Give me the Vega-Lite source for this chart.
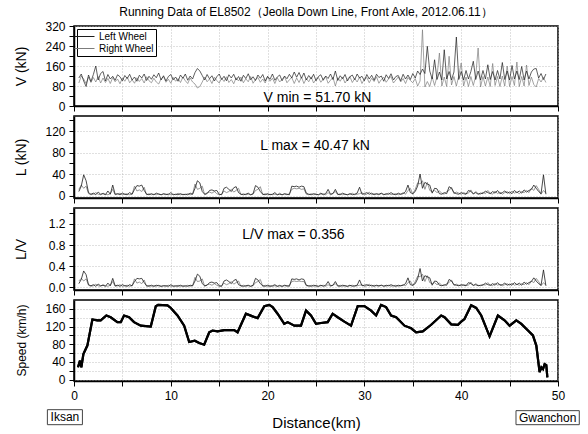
{
  "$schema": "https://vega.github.io/schema/vega-lite/v6.json",
  "background": "white",
  "padding": {"left": 13, "top": 6, "right": 4, "bottom": 4},
  "config": {
    "font": "Liberation Sans",
    "view": {"stroke": "black", "strokeWidth": 1.5},
    "axis": {"domainColor": "black", "domainWidth": 1.5, "tickColor": "black", "tickWidth": 1, "tickSize": 5, "labelColor": "black", "labelFontSize": 12, "labelFont": "Liberation Sans", "titleFont": "Liberation Sans", "titleFontWeight": "normal", "titleColor": "black", "gridColor": "#b0b0b0", "gridDash": [1, 2], "gridWidth": 0.8, "labelPadding": 4, "labelFlush": false, "labelOverlap": false},
    "legend": {"labelFont": "Liberation Sans"}
  },
  "title": {"text": "Running Data of EL8502（Jeolla Down Line, Front Axle, 2012.06.11）", "fontSize": 12, "fontWeight": "normal", "font": "Liberation Sans", "color": "black", "offset": 0, "anchor": "middle", "dx": 9},
  "spacing": 10,
  "bounds": "flush",
  "datasets": {
    "w": [
      {"d":0.5,"vl":112,"vr":92,"ll":8,"lr":12,"ql":0.07,"qr":0.12},
      {"d":0.75,"vl":128,"vr":120,"ll":18,"lr":20,"ql":0.15,"qr":0.17},
      {"d":1.0,"vl":100,"vr":108,"ll":39,"lr":14,"ql":0.31,"qr":0.12},
      {"d":1.25,"vl":78,"vr":90,"ll":28,"lr":18,"ql":0.24,"qr":0.16},
      {"d":1.5,"vl":124,"vr":116,"ll":6,"lr":4,"ql":0.05,"qr":0.04},
      {"d":1.75,"vl":98,"vr":94,"ll":3,"lr":2,"ql":0.03,"qr":0.02},
      {"d":2.0,"vl":126,"vr":114,"ll":5,"lr":3,"ql":0.05,"qr":0.03},
      {"d":2.25,"vl":160,"vr":96,"ll":2,"lr":6,"ql":0.02,"qr":0.06},
      {"d":2.5,"vl":104,"vr":118,"ll":7,"lr":3,"ql":0.06,"qr":0.03},
      {"d":2.75,"vl":130,"vr":92,"ll":3,"lr":2,"ql":0.03,"qr":0.02},
      {"d":3.0,"vl":138,"vr":112,"ll":4,"lr":5,"ql":0.04,"qr":0.05},
      {"d":3.25,"vl":100,"vr":94,"ll":2,"lr":3,"ql":0.02,"qr":0.03},
      {"d":3.5,"vl":126,"vr":110,"ll":9,"lr":2,"ql":0.08,"qr":0.02},
      {"d":3.75,"vl":108,"vr":90,"ll":3,"lr":4,"ql":0.03,"qr":0.04},
      {"d":4.0,"vl":119,"vr":114,"ll":20,"lr":12,"ql":0.17,"qr":0.11},
      {"d":4.25,"vl":103,"vr":97,"ll":3,"lr":2,"ql":0.03,"qr":0.02},
      {"d":4.5,"vl":125,"vr":108,"ll":4,"lr":3,"ql":0.04,"qr":0.03},
      {"d":4.75,"vl":117,"vr":89,"ll":2,"lr":5,"ql":0.02,"qr":0.05},
      {"d":5.0,"vl":101,"vr":112,"ll":5,"lr":2,"ql":0.05,"qr":0.02},
      {"d":5.25,"vl":122,"vr":99,"ll":3,"lr":3,"ql":0.03,"qr":0.03},
      {"d":5.5,"vl":110,"vr":116,"ll":2,"lr":4,"ql":0.02,"qr":0.04},
      {"d":5.75,"vl":127,"vr":93,"ll":6,"lr":2,"ql":0.05,"qr":0.02},
      {"d":6.0,"vl":104,"vr":105,"ll":3,"lr":3,"ql":0.03,"qr":0.03},
      {"d":6.25,"vl":116,"vr":91,"ll":12,"lr":18,"ql":0.11,"qr":0.16},
      {"d":6.5,"vl":99,"vr":113,"ll":19,"lr":9,"ql":0.17,"qr":0.08},
      {"d":6.75,"vl":123,"vr":98,"ll":18,"lr":11,"ql":0.16,"qr":0.10},
      {"d":7.0,"vl":112,"vr":110,"ll":20,"lr":8,"ql":0.17,"qr":0.07},
      {"d":7.25,"vl":128,"vr":92,"ll":10,"lr":16,"ql":0.09,"qr":0.14},
      {"d":7.5,"vl":102,"vr":117,"ll":3,"lr":2,"ql":0.03,"qr":0.02},
      {"d":7.75,"vl":119,"vr":101,"ll":2,"lr":4,"ql":0.02,"qr":0.04},
      {"d":8.0,"vl":107,"vr":93,"ll":4,"lr":2,"ql":0.04,"qr":0.02},
      {"d":8.25,"vl":125,"vr":111,"ll":2,"lr":3,"ql":0.02,"qr":0.03},
      {"d":8.5,"vl":113,"vr":96,"ll":5,"lr":2,"ql":0.04,"qr":0.02},
      {"d":8.75,"vl":132,"vr":88,"ll":3,"lr":4,"ql":0.03,"qr":0.04},
      {"d":9.0,"vl":104,"vr":109,"ll":2,"lr":2,"ql":0.02,"qr":0.02},
      {"d":9.25,"vl":121,"vr":118,"ll":4,"lr":3,"ql":0.03,"qr":0.03},
      {"d":9.5,"vl":100,"vr":95,"ll":3,"lr":2,"ql":0.03,"qr":0.02},
      {"d":9.75,"vl":118,"vr":107,"ll":2,"lr":4,"ql":0.02,"qr":0.04},
      {"d":10.0,"vl":126,"vr":91,"ll":6,"lr":2,"ql":0.05,"qr":0.02},
      {"d":10.25,"vl":105,"vr":114,"ll":2,"lr":3,"ql":0.02,"qr":0.03},
      {"d":10.5,"vl":116,"vr":99,"ll":3,"lr":2,"ql":0.03,"qr":0.02},
      {"d":10.75,"vl":99,"vr":110,"ll":2,"lr":5,"ql":0.02,"qr":0.04},
      {"d":11.0,"vl":124,"vr":94,"ll":4,"lr":2,"ql":0.04,"qr":0.02},
      {"d":11.25,"vl":111,"vr":116,"ll":2,"lr":3,"ql":0.02,"qr":0.03},
      {"d":11.5,"vl":128,"vr":101,"ll":3,"lr":2,"ql":0.03,"qr":0.02},
      {"d":11.75,"vl":103,"vr":90,"ll":2,"lr":4,"ql":0.02,"qr":0.04},
      {"d":12.0,"vl":120,"vr":112,"ll":5,"lr":2,"ql":0.04,"qr":0.02},
      {"d":12.25,"vl":108,"vr":96,"ll":3,"lr":3,"ql":0.03,"qr":0.03},
      {"d":12.5,"vl":134,"vr":88,"ll":14,"lr":22,"ql":0.12,"qr":0.19},
      {"d":12.75,"vl":150,"vr":72,"ll":28,"lr":12,"ql":0.25,"qr":0.11},
      {"d":13.0,"vl":140,"vr":78,"ll":24,"lr":14,"ql":0.21,"qr":0.12},
      {"d":13.25,"vl":122,"vr":96,"ll":8,"lr":18,"ql":0.07,"qr":0.16},
      {"d":13.5,"vl":104,"vr":116,"ll":3,"lr":2,"ql":0.03,"qr":0.02},
      {"d":13.75,"vl":126,"vr":97,"ll":4,"lr":6,"ql":0.04,"qr":0.05},
      {"d":14.0,"vl":109,"vr":108,"ll":10,"lr":7,"ql":0.09,"qr":0.06},
      {"d":14.25,"vl":121,"vr":90,"ll":11,"lr":5,"ql":0.10,"qr":0.04},
      {"d":14.5,"vl":100,"vr":115,"ll":9,"lr":8,"ql":0.08,"qr":0.07},
      {"d":14.75,"vl":117,"vr":102,"ll":10,"lr":4,"ql":0.09,"qr":0.04},
      {"d":15.0,"vl":128,"vr":92,"ll":3,"lr":2,"ql":0.03,"qr":0.02},
      {"d":15.25,"vl":106,"vr":111,"ll":2,"lr":3,"ql":0.02,"qr":0.03},
      {"d":15.5,"vl":119,"vr":98,"ll":14,"lr":9,"ql":0.12,"qr":0.08},
      {"d":15.75,"vl":101,"vr":117,"ll":16,"lr":6,"ql":0.14,"qr":0.05},
      {"d":16.0,"vl":125,"vr":94,"ll":12,"lr":8,"ql":0.11,"qr":0.07},
      {"d":16.25,"vl":112,"vr":106,"ll":8,"lr":12,"ql":0.07,"qr":0.11},
      {"d":16.5,"vl":127,"vr":89,"ll":15,"lr":7,"ql":0.13,"qr":0.06},
      {"d":16.75,"vl":104,"vr":113,"ll":17,"lr":10,"ql":0.15,"qr":0.09},
      {"d":17.0,"vl":118,"vr":100,"ll":6,"lr":14,"ql":0.05,"qr":0.12},
      {"d":17.25,"vl":99,"vr":116,"ll":3,"lr":2,"ql":0.03,"qr":0.02},
      {"d":17.5,"vl":123,"vr":93,"ll":2,"lr":4,"ql":0.02,"qr":0.04},
      {"d":17.75,"vl":110,"vr":109,"ll":3,"lr":2,"ql":0.03,"qr":0.02},
      {"d":18.0,"vl":129,"vr":97,"ll":5,"lr":3,"ql":0.04,"qr":0.03},
      {"d":18.25,"vl":105,"vr":118,"ll":2,"lr":2,"ql":0.02,"qr":0.02},
      {"d":18.5,"vl":117,"vr":91,"ll":4,"lr":3,"ql":0.04,"qr":0.03},
      {"d":18.75,"vl":102,"vr":106,"ll":19,"lr":10,"ql":0.17,"qr":0.09},
      {"d":19.0,"vl":124,"vr":114,"ll":16,"lr":12,"ql":0.14,"qr":0.11},
      {"d":19.25,"vl":111,"vr":95,"ll":8,"lr":17,"ql":0.07,"qr":0.15},
      {"d":19.5,"vl":126,"vr":108,"ll":3,"lr":2,"ql":0.03,"qr":0.02},
      {"d":19.75,"vl":100,"vr":92,"ll":2,"lr":4,"ql":0.02,"qr":0.04},
      {"d":20.0,"vl":119,"vr":117,"ll":4,"lr":2,"ql":0.04,"qr":0.02},
      {"d":20.25,"vl":107,"vr":99,"ll":2,"lr":3,"ql":0.02,"qr":0.03},
      {"d":20.5,"vl":128,"vr":111,"ll":3,"lr":2,"ql":0.03,"qr":0.02},
      {"d":20.75,"vl":103,"vr":90,"ll":6,"lr":3,"ql":0.05,"qr":0.03},
      {"d":21.0,"vl":116,"vr":113,"ll":2,"lr":2,"ql":0.02,"qr":0.02},
      {"d":21.25,"vl":124,"vr":96,"ll":3,"lr":5,"ql":0.03,"qr":0.04},
      {"d":21.5,"vl":101,"vr":107,"ll":2,"lr":2,"ql":0.02,"qr":0.02},
      {"d":21.75,"vl":120,"vr":118,"ll":4,"lr":3,"ql":0.04,"qr":0.03},
      {"d":22.0,"vl":109,"vr":93,"ll":3,"lr":2,"ql":0.03,"qr":0.02},
      {"d":22.25,"vl":127,"vr":105,"ll":2,"lr":4,"ql":0.02,"qr":0.04},
      {"d":22.5,"vl":112,"vr":114,"ll":18,"lr":12,"ql":0.16,"qr":0.11},
      {"d":22.75,"vl":136,"vr":90,"ll":17,"lr":14,"ql":0.15,"qr":0.12},
      {"d":23.0,"vl":115,"vr":112,"ll":18,"lr":13,"ql":0.16,"qr":0.11},
      {"d":23.25,"vl":134,"vr":94,"ll":16,"lr":14,"ql":0.14,"qr":0.12},
      {"d":23.5,"vl":111,"vr":116,"ll":18,"lr":12,"ql":0.16,"qr":0.11},
      {"d":23.75,"vl":132,"vr":90,"ll":17,"lr":13,"ql":0.15,"qr":0.11},
      {"d":24.0,"vl":104,"vr":110,"ll":5,"lr":3,"ql":0.04,"qr":0.03},
      {"d":24.25,"vl":122,"vr":97,"ll":3,"lr":2,"ql":0.03,"qr":0.02},
      {"d":24.5,"vl":108,"vr":117,"ll":2,"lr":4,"ql":0.02,"qr":0.04},
      {"d":24.75,"vl":127,"vr":92,"ll":4,"lr":2,"ql":0.04,"qr":0.02},
      {"d":25.0,"vl":101,"vr":106,"ll":3,"lr":3,"ql":0.03,"qr":0.03},
      {"d":25.25,"vl":118,"vr":114,"ll":2,"lr":2,"ql":0.02,"qr":0.02},
      {"d":25.5,"vl":125,"vr":95,"ll":5,"lr":3,"ql":0.04,"qr":0.03},
      {"d":25.75,"vl":103,"vr":108,"ll":2,"lr":4,"ql":0.02,"qr":0.04},
      {"d":26.0,"vl":120,"vr":118,"ll":4,"lr":2,"ql":0.04,"qr":0.02},
      {"d":26.25,"vl":110,"vr":91,"ll":12,"lr":6,"ql":0.11,"qr":0.05},
      {"d":26.5,"vl":128,"vr":103,"ll":3,"lr":2,"ql":0.03,"qr":0.02},
      {"d":26.75,"vl":106,"vr":115,"ll":4,"lr":5,"ql":0.04,"qr":0.04},
      {"d":27.0,"vl":140,"vr":80,"ll":12,"lr":8,"ql":0.11,"qr":0.07},
      {"d":27.25,"vl":102,"vr":113,"ll":3,"lr":2,"ql":0.03,"qr":0.02},
      {"d":27.5,"vl":121,"vr":99,"ll":2,"lr":4,"ql":0.02,"qr":0.04},
      {"d":27.75,"vl":109,"vr":116,"ll":5,"lr":2,"ql":0.04,"qr":0.02},
      {"d":28.0,"vl":126,"vr":92,"ll":3,"lr":3,"ql":0.03,"qr":0.03},
      {"d":28.25,"vl":100,"vr":107,"ll":2,"lr":2,"ql":0.02,"qr":0.02},
      {"d":28.5,"vl":117,"vr":118,"ll":4,"lr":3,"ql":0.04,"qr":0.03},
      {"d":28.75,"vl":124,"vr":94,"ll":2,"lr":5,"ql":0.02,"qr":0.04},
      {"d":29.0,"vl":105,"vr":110,"ll":3,"lr":2,"ql":0.03,"qr":0.02},
      {"d":29.25,"vl":128,"vr":96,"ll":5,"lr":3,"ql":0.04,"qr":0.03},
      {"d":29.5,"vl":112,"vr":116,"ll":16,"lr":4,"ql":0.14,"qr":0.04},
      {"d":29.75,"vl":119,"vr":90,"ll":3,"lr":6,"ql":0.03,"qr":0.05},
      {"d":30.0,"vl":101,"vr":108,"ll":4,"lr":2,"ql":0.04,"qr":0.02},
      {"d":30.25,"vl":126,"vr":114,"ll":6,"lr":3,"ql":0.05,"qr":0.03},
      {"d":30.5,"vl":108,"vr":93,"ll":3,"lr":7,"ql":0.03,"qr":0.06},
      {"d":30.75,"vl":123,"vr":111,"ll":5,"lr":2,"ql":0.04,"qr":0.02},
      {"d":31.0,"vl":103,"vr":98,"ll":2,"lr":4,"ql":0.02,"qr":0.04},
      {"d":31.25,"vl":127,"vr":117,"ll":4,"lr":3,"ql":0.04,"qr":0.03},
      {"d":31.5,"vl":114,"vr":91,"ll":3,"lr":2,"ql":0.03,"qr":0.02},
      {"d":31.75,"vl":120,"vr":106,"ll":5,"lr":4,"ql":0.04,"qr":0.04},
      {"d":32.0,"vl":99,"vr":115,"ll":2,"lr":3,"ql":0.02,"qr":0.03},
      {"d":32.25,"vl":125,"vr":95,"ll":4,"lr":2,"ql":0.04,"qr":0.02},
      {"d":32.5,"vl":110,"vr":109,"ll":3,"lr":5,"ql":0.03,"qr":0.04},
      {"d":32.75,"vl":129,"vr":118,"ll":6,"lr":2,"ql":0.05,"qr":0.02},
      {"d":33.0,"vl":104,"vr":92,"ll":3,"lr":3,"ql":0.03,"qr":0.03},
      {"d":33.25,"vl":118,"vr":104,"ll":2,"lr":4,"ql":0.02,"qr":0.04},
      {"d":33.5,"vl":122,"vr":116,"ll":5,"lr":2,"ql":0.04,"qr":0.02},
      {"d":33.75,"vl":101,"vr":96,"ll":3,"lr":3,"ql":0.03,"qr":0.03},
      {"d":34.0,"vl":127,"vr":110,"ll":4,"lr":6,"ql":0.04,"qr":0.05},
      {"d":34.25,"vl":108,"vr":90,"ll":8,"lr":3,"ql":0.07,"qr":0.03},
      {"d":34.5,"vl":124,"vr":114,"ll":20,"lr":10,"ql":0.18,"qr":0.09},
      {"d":34.75,"vl":106,"vr":102,"ll":6,"lr":14,"ql":0.05,"qr":0.12},
      {"d":35.0,"vl":130,"vr":93,"ll":4,"lr":3,"ql":0.04,"qr":0.03},
      {"d":35.25,"vl":112,"vr":110,"ll":8,"lr":12,"ql":0.07,"qr":0.11},
      {"d":35.5,"vl":140,"vr":80,"ll":18,"lr":24,"ql":0.16,"qr":0.21},
      {"d":35.75,"vl":126,"vr":100,"ll":40.47,"lr":22,"ql":0.356,"qr":0.20},
      {"d":36.0,"vl":148,"vr":305,"ll":14,"lr":28,"ql":0.12,"qr":0.25},
      {"d":36.25,"vl":130,"vr":76,"ll":25,"lr":12,"ql":0.22,"qr":0.11},
      {"d":36.5,"vl":239,"vr":98,"ll":22,"lr":25,"ql":0.20,"qr":0.22},
      {"d":36.75,"vl":140,"vr":78,"ll":20,"lr":10,"ql":0.18,"qr":0.09},
      {"d":37.0,"vl":108,"vr":116,"ll":5,"lr":8,"ql":0.04,"qr":0.07},
      {"d":37.25,"vl":185,"vr":82,"ll":14,"lr":10,"ql":0.12,"qr":0.09},
      {"d":37.5,"vl":106,"vr":118,"ll":13,"lr":6,"ql":0.11,"qr":0.05},
      {"d":37.75,"vl":136,"vr":212,"ll":4,"lr":9,"ql":0.04,"qr":0.08},
      {"d":38.0,"vl":104,"vr":80,"ll":3,"lr":5,"ql":0.03,"qr":0.04},
      {"d":38.25,"vl":225,"vr":116,"ll":6,"lr":3,"ql":0.05,"qr":0.03},
      {"d":38.5,"vl":108,"vr":78,"ll":4,"lr":8,"ql":0.04,"qr":0.07},
      {"d":38.75,"vl":138,"vr":199,"ll":17,"lr":10,"ql":0.15,"qr":0.09},
      {"d":39.0,"vl":104,"vr":84,"ll":14,"lr":16,"ql":0.12,"qr":0.14},
      {"d":39.25,"vl":136,"vr":118,"ll":6,"lr":4,"ql":0.05,"qr":0.04},
      {"d":39.5,"vl":276,"vr":80,"ll":4,"lr":7,"ql":0.04,"qr":0.06},
      {"d":39.75,"vl":106,"vr":120,"ll":3,"lr":5,"ql":0.03,"qr":0.04},
      {"d":40.0,"vl":138,"vr":172,"ll":6,"lr":3,"ql":0.05,"qr":0.03},
      {"d":40.25,"vl":104,"vr":80,"ll":4,"lr":6,"ql":0.04,"qr":0.05},
      {"d":40.5,"vl":142,"vr":116,"ll":3,"lr":4,"ql":0.03,"qr":0.04},
      {"d":40.75,"vl":108,"vr":78,"ll":10,"lr":5,"ql":0.09,"qr":0.04},
      {"d":41.0,"vl":138,"vr":118,"ll":8,"lr":11,"ql":0.07,"qr":0.10},
      {"d":41.25,"vl":179,"vr":82,"ll":4,"lr":3,"ql":0.04,"qr":0.03},
      {"d":41.5,"vl":106,"vr":120,"ll":6,"lr":8,"ql":0.05,"qr":0.07},
      {"d":41.75,"vl":140,"vr":232,"ll":3,"lr":4,"ql":0.03,"qr":0.04},
      {"d":42.0,"vl":104,"vr":76,"ll":5,"lr":3,"ql":0.04,"qr":0.03},
      {"d":42.25,"vl":142,"vr":118,"ll":4,"lr":7,"ql":0.04,"qr":0.06},
      {"d":42.5,"vl":108,"vr":80,"ll":9,"lr":4,"ql":0.08,"qr":0.04},
      {"d":42.75,"vl":165,"vr":116,"ll":6,"lr":10,"ql":0.05,"qr":0.09},
      {"d":43.0,"vl":106,"vr":78,"ll":4,"lr":5,"ql":0.04,"qr":0.04},
      {"d":43.25,"vl":138,"vr":170,"ll":8,"lr":3,"ql":0.07,"qr":0.03},
      {"d":43.5,"vl":104,"vr":82,"ll":5,"lr":9,"ql":0.04,"qr":0.08},
      {"d":43.75,"vl":142,"vr":118,"ll":10,"lr":4,"ql":0.09,"qr":0.04},
      {"d":44.0,"vl":108,"vr":78,"ll":4,"lr":7,"ql":0.04,"qr":0.06},
      {"d":44.25,"vl":174,"vr":120,"ll":6,"lr":3,"ql":0.05,"qr":0.03},
      {"d":44.5,"vl":106,"vr":80,"ll":9,"lr":6,"ql":0.08,"qr":0.05},
      {"d":44.75,"vl":140,"vr":160,"ll":5,"lr":8,"ql":0.04,"qr":0.07},
      {"d":45.0,"vl":104,"vr":78,"ll":7,"lr":4,"ql":0.06,"qr":0.04},
      {"d":45.25,"vl":162,"vr":118,"ll":4,"lr":9,"ql":0.04,"qr":0.08},
      {"d":45.5,"vl":108,"vr":82,"ll":10,"lr":5,"ql":0.09,"qr":0.04},
      {"d":45.75,"vl":140,"vr":176,"ll":6,"lr":7,"ql":0.05,"qr":0.06},
      {"d":46.0,"vl":106,"vr":78,"ll":9,"lr":4,"ql":0.08,"qr":0.04},
      {"d":46.25,"vl":158,"vr":118,"ll":5,"lr":8,"ql":0.04,"qr":0.07},
      {"d":46.5,"vl":104,"vr":80,"ll":11,"lr":6,"ql":0.10,"qr":0.05},
      {"d":46.75,"vl":140,"vr":164,"ll":7,"lr":10,"ql":0.06,"qr":0.09},
      {"d":47.0,"vl":108,"vr":82,"ll":10,"lr":6,"ql":0.09,"qr":0.05},
      {"d":47.25,"vl":136,"vr":116,"ll":12,"lr":14,"ql":0.11,"qr":0.12},
      {"d":47.5,"vl":148,"vr":86,"ll":20,"lr":10,"ql":0.18,"qr":0.09},
      {"d":47.75,"vl":150,"vr":76,"ll":14,"lr":19,"ql":0.12,"qr":0.17},
      {"d":48.0,"vl":112,"vr":110,"ll":8,"lr":12,"ql":0.07,"qr":0.11},
      {"d":48.25,"vl":130,"vr":96,"ll":4,"lr":3,"ql":0.04,"qr":0.03},
      {"d":48.5,"vl":106,"vr":114,"ll":39,"lr":10,"ql":0.33,"qr":0.09},
      {"d":48.75,"vl":128,"vr":94,"ll":3,"lr":5,"ql":0.03,"qr":0.04}
    ],
    "s": [
      {"d":0.41,"s":28},{"d":0.62,"s":43},{"d":0.76,"s":28},{"d":0.97,"s":58},{"d":1.38,"s":77},
      {"d":1.9,"s":136},{"d":2.41,"s":134},{"d":2.76,"s":134},{"d":3.34,"s":145},{"d":3.79,"s":141},
      {"d":4.48,"s":130},{"d":4.83,"s":130},{"d":5.17,"s":145},{"d":5.69,"s":141},{"d":6.2,"s":130},
      {"d":6.9,"s":122},{"d":7.93,"s":120},{"d":8.45,"s":166},{"d":8.69,"s":169},{"d":9.66,"s":168},
      {"d":10.0,"s":162},{"d":10.69,"s":145},{"d":11.38,"s":122},{"d":11.9,"s":85},{"d":12.48,"s":88},
      {"d":12.93,"s":83},{"d":13.45,"s":79},{"d":13.97,"s":107},{"d":14.31,"s":111},{"d":14.83,"s":109},
      {"d":15.52,"s":112},{"d":16.55,"s":112},{"d":16.9,"s":107},{"d":17.76,"s":149},{"d":18.45,"s":143},
      {"d":18.97,"s":139},{"d":19.66,"s":166},{"d":20.17,"s":169},{"d":20.52,"s":164},{"d":21.03,"s":149},
      {"d":21.72,"s":126},{"d":22.07,"s":130},{"d":22.76,"s":122},{"d":23.45,"s":122},{"d":23.97,"s":156},
      {"d":24.48,"s":145},{"d":25.0,"s":126},{"d":25.52,"s":128},{"d":26.21,"s":130},{"d":26.72,"s":149},
      {"d":27.24,"s":141},{"d":27.93,"s":131},{"d":28.62,"s":122},{"d":29.31,"s":166},{"d":30.0,"s":166},
      {"d":30.69,"s":156},{"d":31.21,"s":145},{"d":31.72,"s":169},{"d":32.24,"s":164},{"d":32.76,"s":145},
      {"d":33.28,"s":141},{"d":34.14,"s":122},{"d":34.83,"s":116},{"d":35.34,"s":107},{"d":36.03,"s":109},
      {"d":36.9,"s":124},{"d":37.93,"s":145},{"d":38.28,"s":141},{"d":38.97,"s":125},{"d":39.66,"s":124},
      {"d":40.0,"s":131},{"d":40.34,"s":137},{"d":41.03,"s":168},{"d":41.55,"s":162},{"d":42.07,"s":145},
      {"d":42.93,"s":98},{"d":43.79,"s":145},{"d":44.48,"s":134},{"d":45.0,"s":122},{"d":45.69,"s":134},
      {"d":46.21,"s":126},{"d":46.9,"s":111},{"d":47.41,"s":100},{"d":47.76,"s":77},{"d":48.1,"s":17},
      {"d":48.28,"s":28},{"d":48.45,"s":24},{"d":48.62,"s":35},{"d":48.79,"s":33},{"d":48.9,"s":5}
    ]
  },
  "vconcat": [
    {
      "width": 484, "height": 80,
      "resolve": {"axis": {"y": "independent"}, "scale": {"y": "shared"}},
      "layer": [
        {"data": {"name": "w"},
         "mark": {"type": "line", "strokeWidth": 0.7, "clip": true},
         "encoding": {
           "x": {"field": "d", "type": "quantitative", "scale": {"domain": [0, 50], "nice": false}, "axis": {"values": [0,5,10,15,20,25,30,35,40,45,50], "labels": false, "title": null, "grid": true}},
           "y": {"field": "vr", "type": "quantitative", "scale": {"domain": [0, 320], "nice": false},
                 "axis": {"orient": "left", "values": [0,80,160,240,320], "labelOverlap": false, "title": "V (kN)", "titleX": -53, "titleY": 40, "titleBaseline": "middle", "titleFontSize": 14, "grid": true}},
           "color": {"datum": "Right Wheel", "type": "nominal", "scale": {"domain": ["Left Wheel", "Right Wheel"], "range": ["#1c1c1c", "#7c7c7c"]},
                     "legend": {"title": null, "orient": "top-left", "offset": 3, "symbolType": "M-2,0H2", "symbolSize": 100, "symbolStrokeWidth": 1, "labelFontSize": 10, "labelColor": "black", "labelOffset": 9, "padding": 2, "rowPadding": 1, "strokeColor": "black", "fillColor": "white", "cornerRadius": 0}}
         }},
        {"data": {"name": "w"},
         "mark": {"type": "line", "strokeWidth": 0.7, "clip": true},
         "encoding": {
           "x": {"field": "d", "type": "quantitative"},
           "y": {"field": "vl", "type": "quantitative", "axis": {"orient": "left", "values": [40,120,200,280], "labels": false, "grid": false, "domain": false, "title": null}},
           "color": {"datum": "Left Wheel", "type": "nominal"}
         }},
        {"data": {"values": [{"t": "V min = 51.70 kN"}]},
         "mark": {"type": "text", "fontSize": 14, "color": "black", "align": "center", "baseline": "middle"},
         "encoding": {"x": {"datum": 25.15, "type": "quantitative"}, "y": {"datum": 32, "type": "quantitative", "axis": null}, "text": {"field": "t"}}}
      ]
    },
    {
      "width": 484, "height": 82,
      "resolve": {"axis": {"y": "independent"}, "scale": {"y": "shared"}},
      "layer": [
        {"data": {"name": "w"},
         "mark": {"type": "line", "strokeWidth": 0.8, "clip": true, "color": "#7c7c7c"},
         "encoding": {
           "x": {"field": "d", "type": "quantitative", "scale": {"domain": [0, 50], "nice": false}, "axis": {"values": [0,5,10,15,20,25,30,35,40,45,50], "labels": false, "title": null, "grid": true}},
           "y": {"field": "lr", "type": "quantitative", "scale": {"domain": [-4, 148], "nice": false},
                 "axis": {"orient": "left", "values": [0,40,80,120], "labelOverlap": false, "title": "L (kN)", "titleX": -53, "titleY": 41, "titleBaseline": "middle", "titleFontSize": 14, "grid": true}}
         }},
        {"data": {"name": "w"},
         "mark": {"type": "line", "strokeWidth": 0.8, "clip": true, "color": "#1c1c1c"},
         "encoding": {"x": {"field": "d", "type": "quantitative"}, "y": {"field": "ll", "type": "quantitative", "axis": {"orient": "left", "values": [20,60,100,140], "labels": false, "grid": false, "domain": false, "title": null}}}},
        {"data": {"values": [{"t": "L max = 40.47 kN"}]},
         "mark": {"type": "text", "fontSize": 14, "color": "black", "align": "center", "baseline": "middle"},
         "encoding": {"x": {"datum": 24.9, "type": "quantitative"}, "y": {"datum": 92, "type": "quantitative", "axis": null}, "text": {"field": "t"}}}
      ]
    },
    {
      "width": 484, "height": 82,
      "resolve": {"axis": {"y": "independent"}, "scale": {"y": "shared"}},
      "layer": [
        {"data": {"name": "w"},
         "mark": {"type": "line", "strokeWidth": 0.8, "clip": true, "color": "#7c7c7c"},
         "encoding": {
           "x": {"field": "d", "type": "quantitative", "scale": {"domain": [0, 50], "nice": false}, "axis": {"values": [0,5,10,15,20,25,30,35,40,45,50], "labels": false, "title": null, "grid": true}},
           "y": {"field": "qr", "type": "quantitative", "scale": {"domain": [-0.05, 1.5], "nice": false},
                 "axis": {"orient": "left", "values": [0,0.4,0.8,1.2], "format": ".1f", "labelOverlap": false, "title": "L/V", "titleX": -53, "titleY": 41, "titleBaseline": "middle", "titleFontSize": 14, "grid": true}}
         }},
        {"data": {"name": "w"},
         "mark": {"type": "line", "strokeWidth": 0.8, "clip": true, "color": "#1c1c1c"},
         "encoding": {"x": {"field": "d", "type": "quantitative"}, "y": {"field": "ql", "type": "quantitative", "axis": {"orient": "left", "values": [0.2,0.6,1.0,1.4], "labels": false, "grid": false, "domain": false, "title": null}}}},
        {"data": {"values": [{"t": "L/V max = 0.356"}]},
         "mark": {"type": "text", "fontSize": 14, "color": "black", "align": "center", "baseline": "middle"},
         "encoding": {"x": {"datum": 22.67, "type": "quantitative"}, "y": {"datum": 0.99, "type": "quantitative", "axis": null}, "text": {"field": "t"}}}
      ]
    },
    {
      "width": 484, "height": 81,
      "resolve": {"axis": {"y": "independent"}, "scale": {"y": "shared"}},
      "layer": [
        {"data": {"name": "s"},
         "mark": {"type": "line", "strokeWidth": 2.2, "color": "black", "clip": true},
         "encoding": {
           "x": {"field": "d", "type": "quantitative", "scale": {"domain": [0, 50], "nice": false}, "axis": {"values": [0,5,10,15,20,25,30,35,40,45,50], "labelOverlap": false, "labelExpr": "datum.value % 10 === 0 ? datum.label : ''", "title": "Distance(km)", "titleFontSize": 15, "titlePadding": 14, "grid": true}},
           "y": {"field": "s", "type": "quantitative", "scale": {"domain": [-3, 180], "nice": false},
                 "axis": {"orient": "left", "values": [0,40,80,120,160], "labelOverlap": false, "title": "Speed (km/h)", "titleX": -53, "titleY": 40, "titleBaseline": "middle", "titleFontSize": 12, "grid": true}}
         }},
        {"data": {"name": "s"},
         "mark": {"type": "line", "strokeWidth": 2.2, "color": "black", "clip": true},
         "encoding": {
           "x": {"field": "d", "type": "quantitative"},
           "y": {"field": "s", "type": "quantitative", "axis": {"orient": "left", "values": [20,60,100,140], "labels": false, "grid": true, "domain": false, "title": null}}
         }},
        {"data": {"values": [{"t": "Iksan"}]},
         "mark": {"type": "rect", "fill": "white", "stroke": "#444", "strokeWidth": 1},
         "encoding": {"x": {"datum": -2.75, "type": "quantitative"}, "x2": {"datum": 0.87}, "y": {"datum": -67.8, "type": "quantitative", "axis": null}, "y2": {"datum": -101.7}}},
        {"data": {"values": [{"t": "Iksan"}]},
         "mark": {"type": "text", "fontSize": 12, "color": "black", "align": "center", "baseline": "middle"},
         "encoding": {"x": {"datum": -0.94, "type": "quantitative"}, "y": {"datum": -84.5, "type": "quantitative", "axis": null}, "text": {"field": "t"}}},
        {"data": {"values": [{"t": "Gwanchon"}]},
         "mark": {"type": "rect", "fill": "white", "stroke": "#444", "strokeWidth": 1},
         "encoding": {"x": {"datum": 45.66, "type": "quantitative"}, "x2": {"datum": 52.2}, "y": {"datum": -70, "type": "quantitative", "axis": null}, "y2": {"datum": -101.7}}},
        {"data": {"values": [{"t": "Gwanchon"}]},
         "mark": {"type": "text", "fontSize": 12, "color": "black", "align": "center", "baseline": "middle"},
         "encoding": {"x": {"datum": 48.93, "type": "quantitative"}, "y": {"datum": -85.8, "type": "quantitative", "axis": null}, "text": {"field": "t"}}}
      ]
    }
  ]
}
